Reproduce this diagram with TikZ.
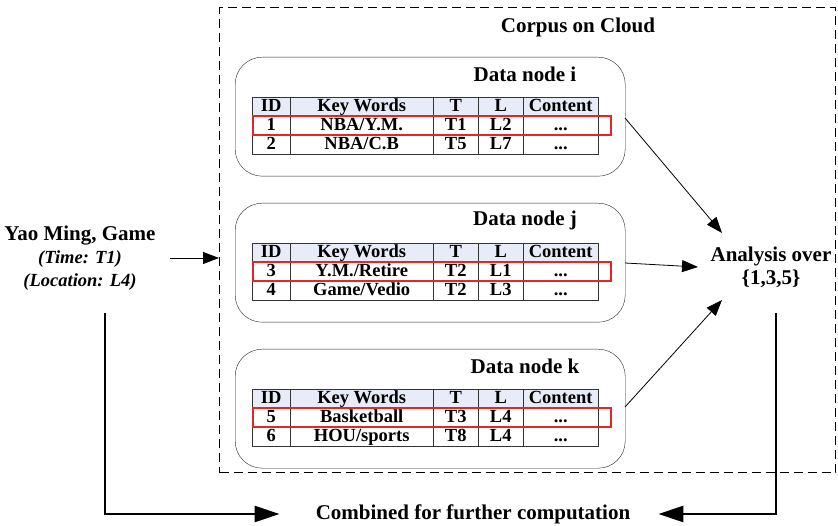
\documentclass[tikz,border=0pt]{standalone}
\usepackage{fontspec}
\setmainfont{Liberation Serif}
\usepackage{xcolor}
\usepackage{tikz}
\usetikzlibrary{arrows.meta, positioning}

\definecolor{headblue}{RGB}{232,236,248}
\definecolor{hitred}{RGB}{225,40,35}

% one row of a table: name, top y, style, then the five cells
\newcommand{\tabrow}[8]{%
  \node[#3, minimum width=38pt] (#1-id) at (252,#2) {#4};
  \node[#3, minimum width=143pt] (#1-kw) at (290,#2) {#5};
  \node[#3, minimum width=45pt] (#1-t) at (433,#2) {#6};
  \node[#3, minimum width=45pt] (#1-l) at (478,#2) {#7};
  \node[#3, minimum width=75pt] (#1-c) at (523,#2) {#8};
}

\begin{document}
\begin{tikzpicture}[x=1pt, y=-1pt,
  title/.style={font=\fontsize{21}{23}\selectfont\bfseries},
  cell/.style={rectangle, draw=black!80, anchor=north west, inner sep=0pt, minimum height=19pt, text height=12pt, text depth=2.5pt, font=\fontsize{18.5}{19}\selectfont\bfseries},
  head/.style={cell, fill=headblue},
  store/.style={rectangle, draw=black!85, anchor=north west, rounded corners=27pt, minimum width=390pt, minimum height=119pt},
  hit/.style={rectangle, draw=hitred, line width=2.4pt, anchor=north west, inner sep=0pt, minimum width=358pt, minimum height=19pt},
  cloudbox/.style={rectangle, draw, dash pattern=on 9pt off 5pt, line width=1.3pt, anchor=north west, minimum width=616pt, minimum height=465pt},
  arrow/.style={-{Triangle[length=16pt, width=12pt]}, line width=0.8pt},
  bigarrow/.style={-{Triangle[length=25pt, width=16pt]}, line width=2.3pt}
]
\useasboundingbox (0,0) rectangle (838,526);

\node[cloudbox] (cloud) at (219,7) {};
\node[title] (cloud-title) at (578,27) {Corpus on Cloud};

% data nodes
\node[store] (i) at (235,57) {};
\node[store] (j) at (235,203) {};
\node[store] (k) at (235,349) {};
\node[title] (i-title) at (525,74) {Data node i};
\node[title] (j-title) at (525,220) {Data node j};
\node[title] (k-title) at (525,366) {Data node k};

\foreach \n/\y in {i/97, j/243, k/389}{
  \tabrow{\n0}{\y}{head}{ID}{Key Words}{T}{L}{Content}
}

\tabrow{i1}{116}{cell}{1}{NBA/Y.M.}{T1}{L2}{...}
\tabrow{i2}{135}{cell}{2}{NBA/C.B}{T5}{L7}{...}
\tabrow{j1}{262}{cell}{3}{Y.M./Retire}{T2}{L1}{...}
\tabrow{j2}{281}{cell}{4}{Game/Vedio}{T2}{L3}{...}
\tabrow{k1}{408}{cell}{5}{Basketball}{T3}{L4}{...}
\tabrow{k2}{427}{cell}{6}{HOU/sports}{T8}{L4}{...}

\node[hit] (i-hit) at (252,115) {};
\node[hit] (j-hit) at (252,261) {};
\node[hit] (k-hit) at (252,407) {};

% query and result
\node[align=center, inner sep=0pt, font=\fontsize{18.5}{23}\selectfont\bfseries] (query) at (80,258) {{\fontsize{21}{23}\selectfont Yao Ming, Game}\\
  {\itshape (Time: T1)}\\
  {\itshape (Location: L4)}};
\node[title, align=center, inner sep=0pt] (ana) at (771,267) {Analysis over\\[0pt]\{1,3,5\}};
\node[title, inner sep=0pt] (comb) at (473,514) {Combined for further computation};

\coordinate (q-arrow) at (170,258);
\coordinate (q-out) at (105,313);
\coordinate (a-out) at (776,313);
\coordinate (ana-in1) at (722,233);
\coordinate (ana-in2) at (698,267);
\coordinate (ana-in3) at (722,300);

\draw[arrow] (q-arrow) -- (q-arrow -| cloud.west);
\draw[arrow] (625,118) -- (ana-in1);
\draw[arrow] (625,263) -- (ana-in2);
\draw[arrow] (625,407) -- (ana-in3);

\draw[bigarrow] (q-out) |- ([xshift=-36pt]comb.west);
\draw[bigarrow] (a-out) |- ([xshift=28pt]comb.east);
\end{tikzpicture}
\end{document}
